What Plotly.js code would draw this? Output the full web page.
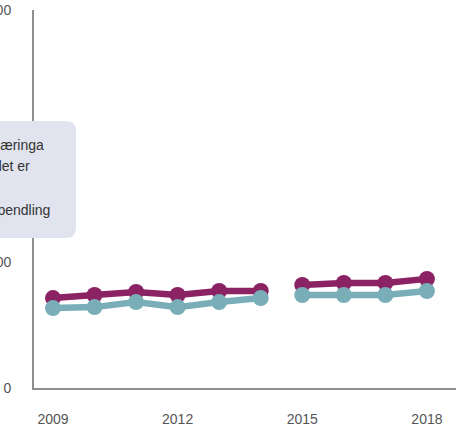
<!DOCTYPE html>
<html>
<head>
<meta charset="utf-8">
<script src="https://cdn.plot.ly/plotly-3.0.1.min.js"></script>
<style>
  html, body { margin: 0; padding: 0; background: #ffffff; }
  #chart { width: 456px; height: 427px; }
</style>
</head>
<body>
<div id="chart"></div>
<script>
// ---- data ----
var years = [2009, 2010, 2011, 2012, 2013, 2014, 2015, 2016, 2017, 2018];
var seriesA = [357, 369, 381, 369, 385, 385, 409, 417, 417, 433];   // purple
var seriesB = [317, 321, 341, 321, 341, 357, 369, 369, 369, 385];   // teal
var breakAfterYear = 2014;   // line is broken between 2014 and 2015
var yTickVals = [0, 500, 1000, 1500];
var xTickVals = [2009, 2012, 2015, 2018];
var boxLines = ["Sysselsette i næringa", "der arbeidsstaden det er", "i kommunen,", "inkl. innpendling"];

// ---- styling ----
var purple = "#8b2263";
var teal = "#79aeb8";
var axisGrey = "#8f8f8f";
var tickGrey = "#555555";

function segment(vals, first) {
  var xs = [], ys = [];
  for (var i = 0; i < years.length; i++) {
    var inFirst = years[i] <= breakAfterYear;
    if (inFirst === first) { xs.push(years[i]); ys.push(vals[i]); }
  }
  return {x: xs, y: ys};
}

function trace(vals, first, color) {
  var s = segment(vals, first);
  return {
    x: s.x, y: s.y, type: "scatter", mode: "lines+markers",
    line: {color: color, width: 6.5},
    marker: {color: color, size: 16},
    showlegend: false, hoverinfo: "skip"
  };
}

var data = [
  trace(seriesA, true, purple), trace(seriesA, false, purple),
  trace(seriesB, true, teal), trace(seriesB, false, teal)
];

// box geometry in paper coords (plot area: x 34..456 px, y 10..388 px)
var W = 422, H = 378;
function px(x) { return (x - 34) / W; }
function py(y) { return (388 - y) / H; }
var bx0 = px(-120), bx1 = px(76), by0 = py(238), by1 = py(121);
var rx = 10 / W, ry = 10 / H;
var boxPath =
  "M " + bx0 + "," + by0 +
  " L " + (bx1 - rx) + "," + by0 +
  " Q " + bx1 + "," + by0 + " " + bx1 + "," + (by0 + ry) +
  " L " + bx1 + "," + (by1 - ry) +
  " Q " + bx1 + "," + by1 + " " + (bx1 - rx) + "," + by1 +
  " L " + bx0 + "," + by1 + " Z";

var lineRight = [46, 32, -8, 52];
var lineCenter = [145, 166, 188, 210];
var annotations = boxLines.map(function (t, i) {
  return {
    text: t, xref: "paper", yref: "paper",
    x: px(lineRight[i]), y: py(lineCenter[i]),
    xanchor: "right", yanchor: "middle", showarrow: false,
    font: {family: "Liberation Sans, Arial, sans-serif", size: 14, color: "#333333"}
  };
});

var layout = {
  width: 456, height: 427,
  margin: {l: 34, r: 0, t: 10, b: 39, pad: 0},
  paper_bgcolor: "#ffffff", plot_bgcolor: "#ffffff",
  font: {family: "Liberation Sans, Arial, sans-serif", size: 14, color: tickGrey},
  xaxis: {
    range: [2008.543, 2018.70],
    tickvals: xTickVals, ticktext: xTickVals.map(String),
    showgrid: false, zeroline: false,
    showline: true, linecolor: axisGrey, linewidth: 2,
    ticks: "outside", ticklen: 17, tickcolor: "rgba(0,0,0,0)",
    tickfont: {size: 14, color: tickGrey}
  },
  yaxis: {
    range: [0, 1500],
    tickvals: yTickVals, ticktext: yTickVals.map(String),
    showgrid: false, zeroline: false,
    showline: true, linecolor: axisGrey, linewidth: 2,
    ticks: "outside", ticklen: 18, tickcolor: "rgba(0,0,0,0)",
    tickfont: {size: 14, color: tickGrey}
  },
  shapes: [{
    type: "path", xref: "paper", yref: "paper", path: boxPath,
    fillcolor: "#e1e4ee", line: {width: 0}, layer: "above"
  }],
  annotations: annotations
};

Plotly.newPlot("chart", data, layout, {displayModeBar: false, staticPlot: true});
</script>
</body>
</html>
